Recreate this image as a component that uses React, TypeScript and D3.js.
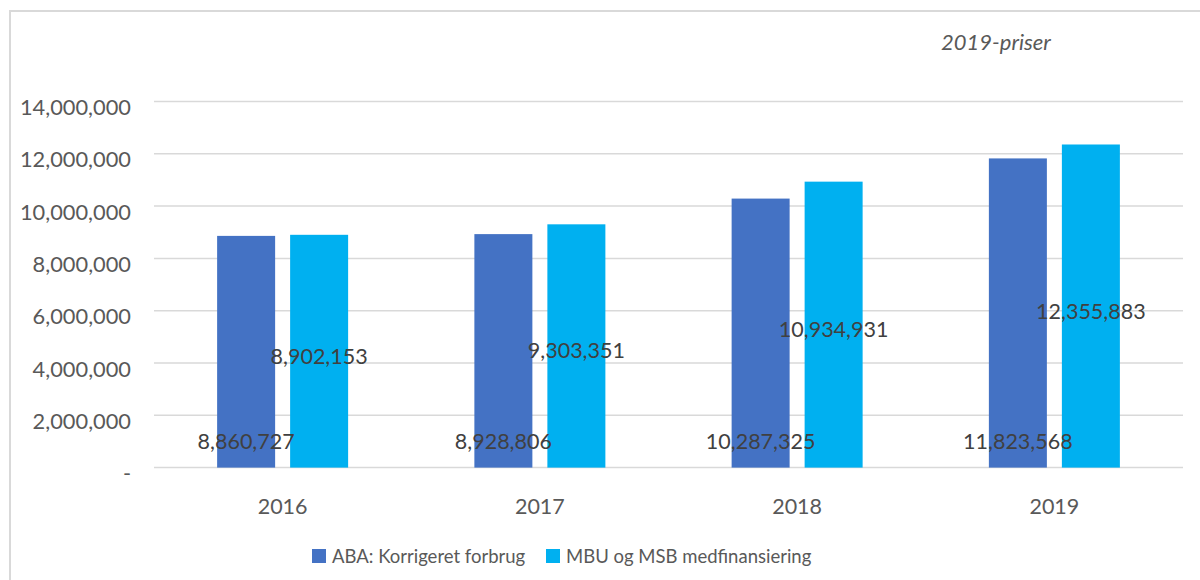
import React, { useEffect, useRef } from 'react';
import * as d3 from 'd3';

const years = ['2016', '2017', '2018', '2019'];
const seriesNames = ['ABA: Korrigeret forbrug', 'MBU og MSB medfinansiering'];
const abaValues = [8860727, 8928806, 10287325, 11823568];
const mbuValues = [8902153, 9303351, 10934931, 12355883];
const yTicks = [0, 2000000, 4000000, 6000000, 8000000, 10000000, 12000000, 14000000];
const subtitle = '2019-priser';

const colors = ['#4472C4', '#00B0F0'];
const FONT = 'Lato, "Open Sans", sans-serif';

const drawChart = (element: SVGSVGElement) => {
	const width = 1200;
	const height = 580;
	const svg = d3.select(element);
	svg.selectAll('*').remove();
	svg.attr('width', width).attr('height', height);

	// chart frame (cut off on right and bottom like the source)
	svg.append('rect')
		.attr('x', 10).attr('y', 11)
		.attr('width', width + 20).attr('height', height + 20)
		.attr('fill', 'none').attr('stroke', '#d9d9d9').attr('stroke-width', 2);

	const x0 = d3.scaleBand().domain(years).range([154, 1183]).paddingInner(0).paddingOuter(0);
	const groupPad = (x0.bandwidth() - 131) / 2;
	const x1 = d3.scaleBand().domain(seriesNames)
		.range([groupPad, x0.bandwidth() - groupPad])
		.paddingInner(15 / 73).paddingOuter(0);
	const y = d3.scaleLinear().domain([0, 14000000]).range([467.6, 101.5]);

	// gridlines
	svg.append('g').selectAll('line').data(yTicks).enter().append('line')
		.attr('x1', 154).attr('x2', 1183)
		.attr('y1', (d) => y(d)).attr('y2', (d) => y(d))
		.attr('stroke', '#d9d9d9').attr('stroke-width', 1.5);

	// y tick labels
	const fmt = d3.format(',');
	svg.append('g').selectAll('text').data(yTicks).enter().append('text')
		.attr('x', 131).attr('y', (d) => y(d) + 5)
		.attr('text-anchor', 'end').attr('dominant-baseline', 'central')
		.style('font-family', FONT).style('font-size', '21.8px').style('fill', '#595959')
		.text((d) => (d === 0 ? '-' : fmt(d)));

	// x labels
	svg.append('g').selectAll('text').data(years).enter().append('text')
		.attr('x', (d) => (x0(d) as number) + x0.bandwidth() / 2).attr('y', 513.5)
		.attr('text-anchor', 'middle')
		.style('font-family', FONT).style('font-size', '21.5px').style('fill', '#595959')
		.text((d) => d);

	const rows = years.map((yr, i) => ({ year: yr, values: [abaValues[i], mbuValues[i]] }));

	const groups = svg.append('g').selectAll('g').data(rows).enter().append('g')
		.attr('transform', (d) => `translate(${x0(d.year)},0)`);

	groups.selectAll('rect').data((d) => d.values.map((v, i) => ({ v, s: seriesNames[i], i }))).enter()
		.append('rect')
		.attr('x', (d) => x1(d.s) as number)
		.attr('width', x1.bandwidth())
		.attr('y', (d) => y(d.v))
		.attr('height', (d) => y(0) - y(d.v))
		.attr('fill', (d) => colors[d.i]);

	// data labels: first series near base, second mid-bar
	groups.selectAll('text').data((d) => d.values.map((v, i) => ({ v, s: seriesNames[i], i }))).enter()
		.append('text')
		.attr('x', (d) => (x1(d.s) as number) + x1.bandwidth() / 2)
		.attr('y', (d) => (d.i === 0 ? y(0) - 26.5 : y(d.v / 2) + 4.5))
		.attr('text-anchor', 'middle').attr('dominant-baseline', 'central')
		.style('font-family', FONT).style('font-size', '21.5px').style('fill', '#404040')
		.text((d) => fmt(d.v));

	// subtitle
	svg.append('text')
		.attr('x', 941).attr('y', 50)
		.style('font-family', FONT).style('font-size', '22px').style('font-style', 'italic')
		.style('fill', '#595959')
		.text(subtitle);

	// legend
	const legendX = [312, 546];
	const legend = svg.append('g').selectAll('g').data(seriesNames).enter().append('g')
		.attr('transform', (d, i) => `translate(${legendX[i]},549)`);
	legend.append('rect').attr('width', 14).attr('height', 14).attr('fill', (d, i) => colors[i]);
	legend.append('text').attr('x', 20).attr('y', 14)
		.style('font-family', FONT).style('font-size', '18.5px').style('fill', '#595959')
		.text((d) => d);
};

const App = () => {
	const ref = useRef<SVGSVGElement>(null);
	useEffect(() => {
		if (ref.current) drawChart(ref.current);
	}, []);
	return (
		<div style={{ position: 'absolute', left: 0, top: 0, width: 1200, height: 580, overflow: 'hidden', background: '#fff' }}>
			<svg ref={ref} />
		</div>
	);
};

export default App;
